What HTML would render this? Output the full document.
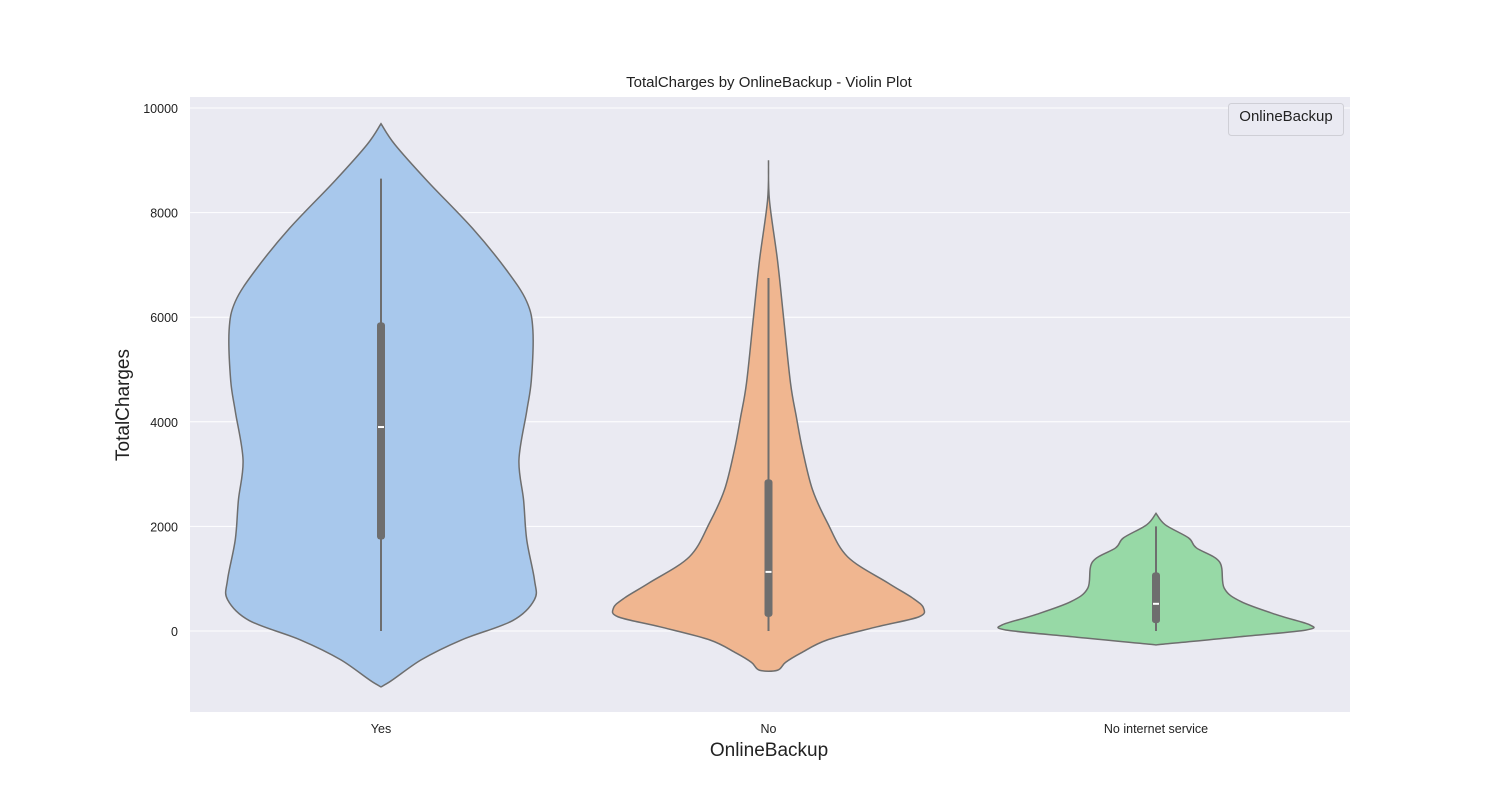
<!DOCTYPE html>
<html><head><meta charset="utf-8"><style>
body{margin:0;background:#fff;}
svg text{font-family:"Liberation Sans",Arial,sans-serif;}
</style></head><body>
<svg id="chart" width="1500" height="800" xmlns="http://www.w3.org/2000/svg">
<rect x="190" y="97" width="1160" height="615" fill="#eaeaf2"/>
<g id="grid"></g>
<g id="violins"></g>
<text x="769" y="87" font-size="15" text-anchor="middle" fill="#222">TotalCharges by OnlineBackup - Violin Plot</text>
<text x="769" y="756" font-size="19" text-anchor="middle" fill="#222">OnlineBackup</text>
<text transform="translate(129,405) rotate(-90)" font-size="19" text-anchor="middle" fill="#222">TotalCharges</text>
<g>
<rect x="1228.5" y="103.5" width="115" height="32" rx="3" fill="#eaeaf2" stroke="#cfcfd6"/>
<text x="1286" y="121" font-size="15" text-anchor="middle" fill="#222">OnlineBackup</text>
</g>
</svg>
<script>
const categories = ["Yes","No","No internet service"];
const colors = ["#a8c8ec","#f0b690","#97d9a6"];
const yTicks = [0,2000,4000,6000,8000,10000];
// violin profiles: values (TotalCharges) and relative density
const yesVals = [9700,9300,8600,7700,6900,6300,5750,4800,4200,3270,2500,1750,980,600,200,-170,-550,-1010];
const yesDens = [0,0.09,0.30,0.59,0.81,0.94,0.98,0.97,0.94,0.89,0.92,0.94,0.99,0.99,0.85,0.52,0.26,0.035];
const noVals = [9000,8240,7090,6000,4740,4090,3460,2700,2070,1420,920,630,440,270,80,-170,-420,-600,-750];
const noDens = [0,0.006,0.058,0.097,0.142,0.18,0.22,0.284,0.38,0.51,0.77,0.93,1.0,0.97,0.70,0.38,0.21,0.11,0.058];
const niVals = [2250,2030,1780,1590,1320,820,560,300,120,20,-110,-250];
const niDens = [0,0.06,0.21,0.26,0.41,0.44,0.55,0.79,0.99,0.97,0.54,0.05];
const whiskLo = [0,0,0];
const whiskHi = [8650,6750,2000];
const q1 = [1750,270,150];
const q3 = [5900,2900,1120];
const medians = [3900,1130,520];
const profiles = [[yesVals,yesDens],[noVals,noDens],[niVals,niDens]];

const NS="http://www.w3.org/2000/svg";
const y = v => 631 - v*(523/10000);
const x = i => 381 + i*387.5;
const maxHalf = 155;
function mk(tag, attrs, parent){const e=document.createElementNS(NS,tag);for(const k in attrs)e.setAttribute(k,attrs[k]);parent.appendChild(e);return e;}
const grid=document.getElementById('grid'), svg=document.getElementById('chart'), vg=document.getElementById('violins');
yTicks.forEach(t=>{
  const l=mk('line',{x1:190,x2:1350,y1:y(t),y2:y(t),stroke:'#fff','stroke-width':1},grid);
  
  
  const tx=mk('text',{x:178,y:y(t)+5,'font-size':12.5,'text-anchor':'end',fill:'#222'},svg);
  tx.textContent=t;
  
  
});
categories.forEach((c,i)=>{
  const tx=mk('text',{x:x(i),y:733,'font-size':12.5,'text-anchor':'middle',fill:'#222'},svg);
  tx.textContent=c;
  
  
  const [vals,dens]=profiles[i];
  const pts=vals.map((v,k)=>[x(i)+dens[k]*maxHalf,y(v)]);
  const left=vals.map((v,k)=>[x(i)-dens[k]*maxHalf,y(v)]).reverse();
  const all=pts.concat(left);
  let d='M'+all[0][0]+','+all[0][1];
  for(let k=0;k<all.length-1;k++){
    const p0=all[Math.max(k-1,0)],p1=all[k],p2=all[k+1],p3=all[Math.min(k+2,all.length-1)];
    const c1=[p1[0]+(p2[0]-p0[0])/6,p1[1]+(p2[1]-p0[1])/6];
    const c2=[p2[0]-(p3[0]-p1[0])/6,p2[1]-(p3[1]-p1[1])/6];
    d+=` C${c1[0]},${c1[1]} ${c2[0]},${c2[1]} ${p2[0]},${p2[1]}`;
  }
  d+='Z';
  const p=mk('path',{d:d,fill:colors[i],stroke:'#6e6e6e','stroke-width':1.5},vg);
  
  
  const w=mk('line',{x1:x(i),x2:x(i),y1:y(whiskLo[i]),y2:y(whiskHi[i]),stroke:'#6e6e6e','stroke-width':2},vg);
  
  
  const b=mk('rect',{x:x(i)-4,y:y(q3[i]),width:8,height:y(q1[i])-y(q3[i]),rx:3,fill:'#6e6e6e'},vg);
  
  
  const m=mk('line',{x1:x(i)-3,x2:x(i)+3,y1:y(medians[i]),y2:y(medians[i]),stroke:'#fff','stroke-width':2},vg);
  
  
});
</script>
</body></html>
